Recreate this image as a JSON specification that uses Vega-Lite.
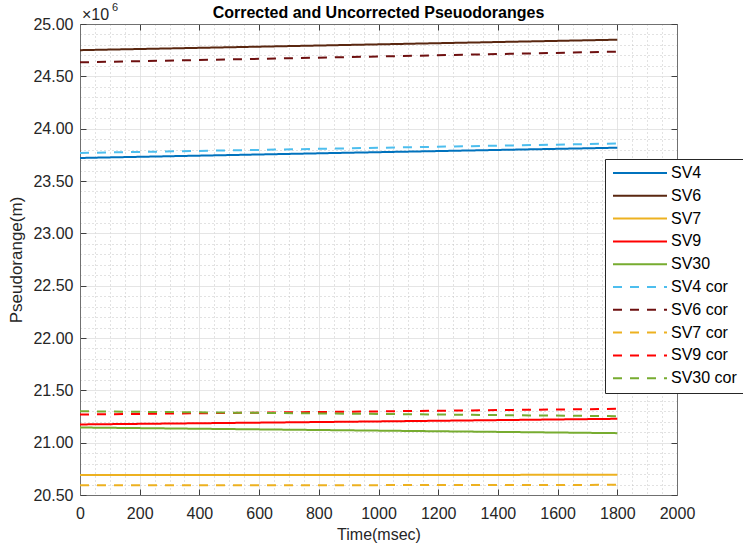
{
  "$schema": "https://vega.github.io/schema/vega-lite/v6.json",
  "autosize": "none",
  "width": 597,
  "height": 471,
  "padding": {"left": 80, "top": 24, "right": 66, "bottom": 57},
  "background": "white",
  "title": {"text": "Corrected and Uncorrected Pseuodoranges", "font": "Liberation Sans", "fontSize": 16, "fontWeight": "bold", "color": "#000000", "offset": -19, "anchor": "middle"},
  "config": {
    "font": "Liberation Sans",
    "view": {"stroke": null},
    "axis": {"labelFont": "Liberation Sans", "titleFont": "Liberation Sans", "labelColor": "#262626", "titleColor": "#262626", "domainColor": "#707070", "tickColor": "#404040", "titleFontWeight": "normal"}
  },
  "data": {"values": [
    {"series": "SV4", "t": 0, "v": 23.72}, {"series": "SV4", "t": 900, "v": 23.77}, {"series": "SV4", "t": 1800, "v": 23.818},
    {"series": "SV6", "t": 0, "v": 24.75}, {"series": "SV6", "t": 900, "v": 24.80}, {"series": "SV6", "t": 1800, "v": 24.85},
    {"series": "SV7", "t": 0, "v": 20.69}, {"series": "SV7", "t": 900, "v": 20.691}, {"series": "SV7", "t": 1800, "v": 20.693},
    {"series": "SV9", "t": 0, "v": 21.174}, {"series": "SV9", "t": 900, "v": 21.2}, {"series": "SV9", "t": 1800, "v": 21.228},
    {"series": "SV30", "t": 0, "v": 21.145}, {"series": "SV30", "t": 900, "v": 21.118}, {"series": "SV30", "t": 1800, "v": 21.091},
    {"series": "SV4 cor", "t": 0, "v": 23.768}, {"series": "SV4 cor", "t": 900, "v": 23.812}, {"series": "SV4 cor", "t": 1800, "v": 23.858},
    {"series": "SV6 cor", "t": 0, "v": 24.634}, {"series": "SV6 cor", "t": 900, "v": 24.684}, {"series": "SV6 cor", "t": 1800, "v": 24.736},
    {"series": "SV7 cor", "t": 0, "v": 20.592}, {"series": "SV7 cor", "t": 900, "v": 20.594}, {"series": "SV7 cor", "t": 1800, "v": 20.597},
    {"series": "SV9 cor", "t": 0, "v": 21.269}, {"series": "SV9 cor", "t": 900, "v": 21.296}, {"series": "SV9 cor", "t": 1800, "v": 21.323},
    {"series": "SV30 cor", "t": 0, "v": 21.3}, {"series": "SV30 cor", "t": 900, "v": 21.277}, {"series": "SV30 cor", "t": 1800, "v": 21.253}
  ]},
  "resolve": {"axis": {"x": "independent", "y": "independent"}},
  "layer": [
    {
      "mark": {"type": "line", "strokeWidth": 2},
      "encoding": {
        "x": {"field": "t", "type": "quantitative", "scale": {"domain": [0, 2000], "nice": false, "zero": false},
          "axis": {"orient": "bottom",
            "values": [0,50,100,150,200,250,300,350,400,450,500,550,600,650,700,750,800,850,900,950,1000,1050,1100,1150,1200,1250,1300,1350,1400,1450,1500,1550,1600,1650,1700,1750,1800,1850,1900,1950,2000],
            "format": "d", "labelExpr": "datum.value % 200 === 0 ? datum.label : ''", "labelOverlap": false,
            "title": "Time(msec)", "titleFontSize": 16, "titlePadding": 5, "labelFontSize": 16, "labelPadding": 16, "tickSize": -6,
            "tickOpacity": {"condition": {"test": "datum.value % 200 === 0", "value": 1}, "value": 0},
            "grid": true, "gridWidth": 1,
            "gridColor": {"condition": {"test": "datum.value % 200 === 0", "value": "#dcdcdc"}, "value": "#c4c4c4"},
            "gridDash": {"condition": {"test": "datum.value % 200 === 0", "value": [1, 0]}, "value": [1, 3]},
            "labelFlush": false}},
        "y": {"field": "v", "type": "quantitative", "scale": {"domain": [20.5, 25.0], "nice": false, "zero": false},
          "axis": {"orient": "left",
            "values": [20.5,20.6,20.7,20.8,20.9,21.0,21.1,21.2,21.3,21.4,21.5,21.6,21.7,21.8,21.9,22.0,22.1,22.2,22.3,22.4,22.5,22.6,22.7,22.8,22.9,23.0,23.1,23.2,23.3,23.4,23.5,23.6,23.7,23.8,23.9,24.0,24.1,24.2,24.3,24.4,24.5,24.6,24.7,24.8,24.9,25.0],
            "format": ".2f", "labelExpr": "abs(datum.value*2 - round(datum.value*2)) < 0.001 ? datum.label : ''", "labelOverlap": false,
            "title": "Pseudorange(m)", "titleFontSize": 17, "titlePadding": 7, "labelFontSize": 16, "labelPadding": 13, "tickSize": -6,
            "tickOpacity": {"condition": {"test": "abs(datum.value*2 - round(datum.value*2)) < 0.001", "value": 1}, "value": 0},
            "grid": true, "gridWidth": 1,
            "gridColor": {"condition": {"test": "abs(datum.value*2 - round(datum.value*2)) < 0.001", "value": "#dcdcdc"}, "value": "#c4c4c4"},
            "gridDash": {"condition": {"test": "abs(datum.value*2 - round(datum.value*2)) < 0.001", "value": [1, 0]}, "value": [1, 3]},
            "labelFlush": false}},
        "color": {"field": "series", "type": "nominal",
          "scale": {"domain": ["SV4","SV6","SV7","SV9","SV30","SV4 cor","SV6 cor","SV7 cor","SV9 cor","SV30 cor"],
                    "range": ["#0072BD","#5A2710","#EDB120","#FF0000","#77AC30","#4DBEEE","#6E1010","#EDB120","#FF0000","#77AC30"]},
          "legend": {"orient": "none", "legendX": 525, "legendY": 135, "title": null, "fillColor": "white", "strokeColor": "#262626", "padding": 6, "symbolType": "M-2,0H16", "symbolSize": 36, "symbolStrokeWidth": 2, "labelFontSize": 16, "labelColor": "#000000", "labelOffset": 44, "rowPadding": 6.8}},
        "strokeDash": {"field": "series", "type": "nominal",
          "scale": {"domain": ["SV4","SV6","SV7","SV9","SV30","SV4 cor","SV6 cor","SV7 cor","SV9 cor","SV30 cor"],
                    "range": [[1,0],[1,0],[1,0],[1,0],[1,0],[9,8],[9,8],[9,8],[9,8],[9,8]]}}
      }
    },
    {
      "mark": {"type": "line", "opacity": 0},
      "encoding": {
        "x": {"field": "t", "type": "quantitative", "axis": {"orient": "top", "values": [0,200,400,600,800,1000,1200,1400,1600,1800,2000], "labels": false, "ticks": true, "tickSize": -6, "title": null, "grid": false}},
        "y": {"field": "v", "type": "quantitative", "axis": {"orient": "right", "values": [20.5,21,21.5,22,22.5,23,23.5,24,24.5,25], "labels": false, "ticks": true, "tickSize": -6, "title": null, "grid": false}},
        "detail": {"field": "series"}
      }
    },
    {
      "data": {"values": [{"mult": "×10"}]},
      "mark": {"type": "text", "align": "left", "baseline": "alphabetic", "dy": -4, "dx": 2, "fontSize": 16, "color": "#262626", "font": "Liberation Sans"},
      "encoding": {
        "x": {"datum": 0, "type": "quantitative", "axis": null},
        "y": {"datum": 25, "type": "quantitative", "axis": null},
        "text": {"field": "mult"}
      }
    },
    {
      "data": {"values": [{"exp": "6"}]},
      "mark": {"type": "text", "align": "left", "baseline": "alphabetic", "dy": -13, "dx": 32, "fontSize": 11, "color": "#262626", "font": "Liberation Sans"},
      "encoding": {
        "x": {"datum": 0, "type": "quantitative", "axis": null},
        "y": {"datum": 25, "type": "quantitative", "axis": null},
        "text": {"field": "exp"}
      }
    }
  ]
}
